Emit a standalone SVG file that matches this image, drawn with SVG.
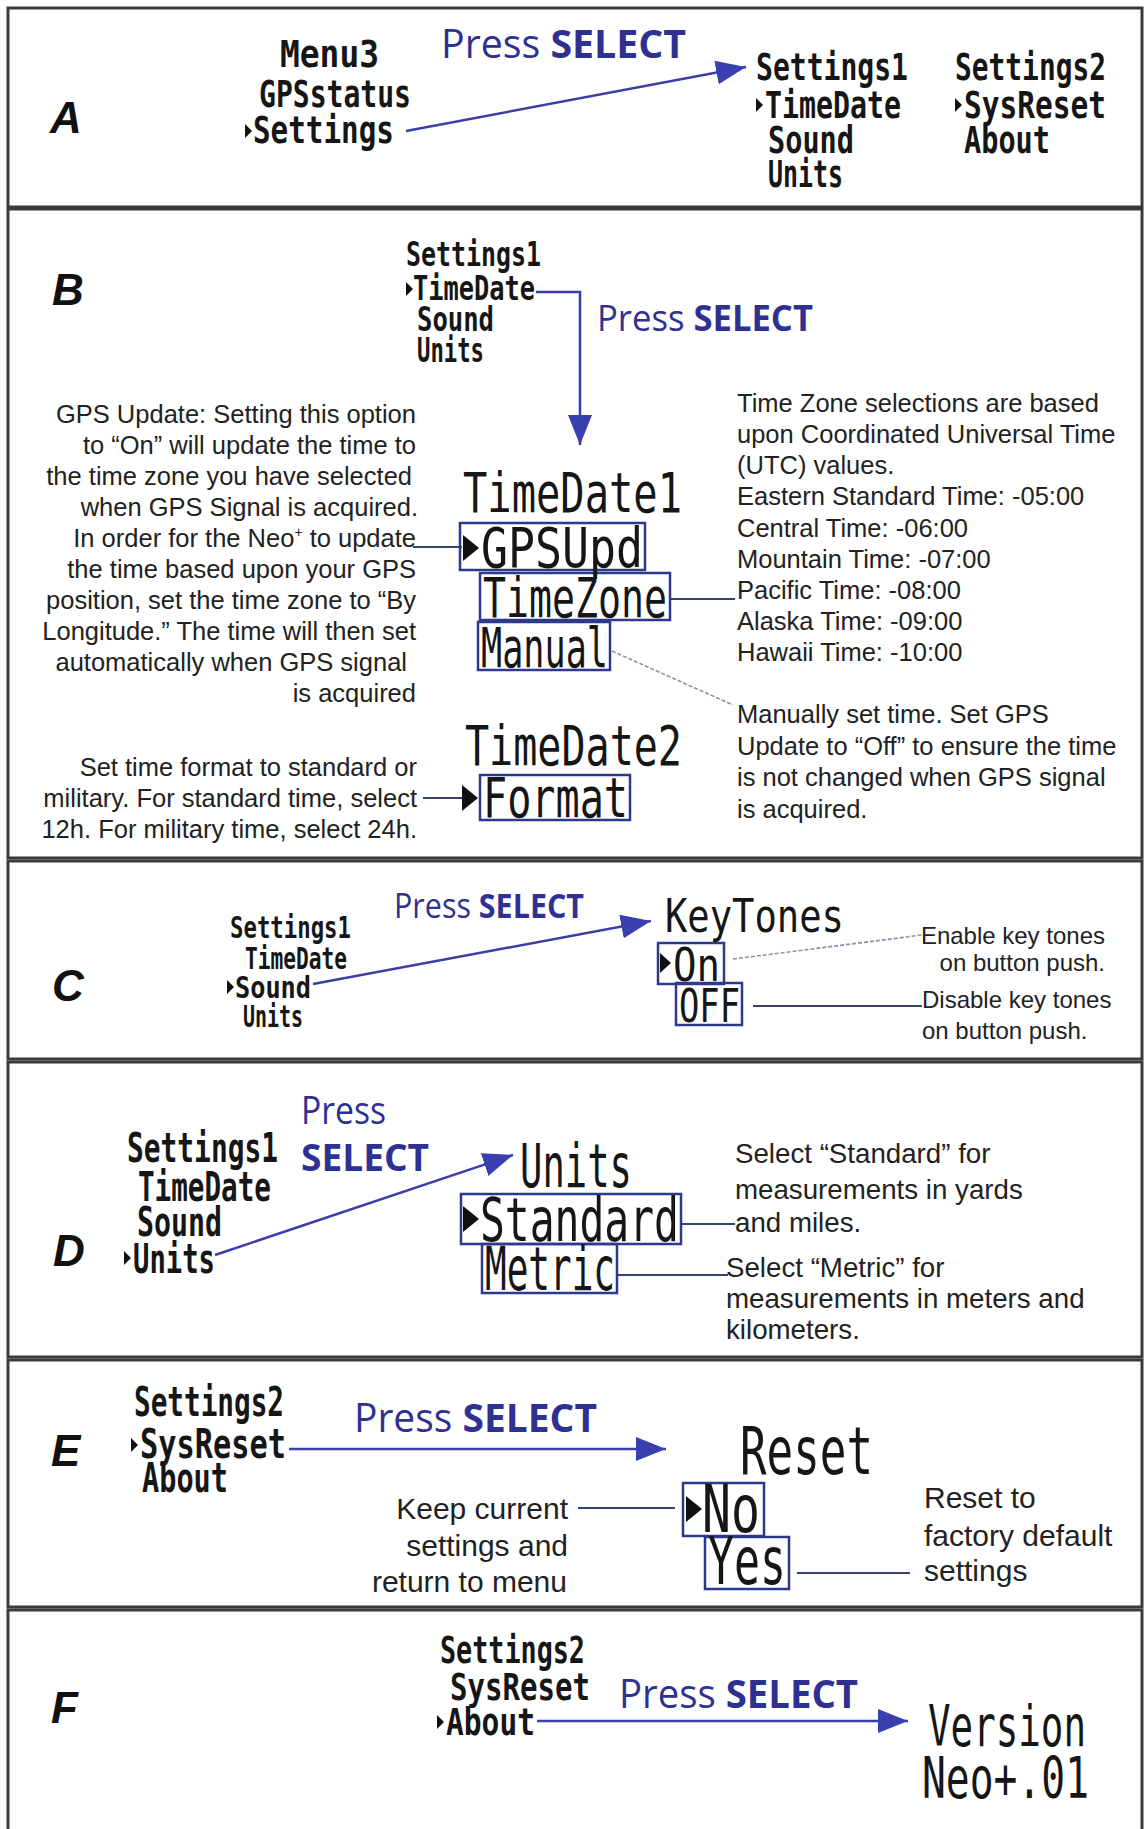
<svg xmlns="http://www.w3.org/2000/svg" width="1146" height="1829" viewBox="0 0 1146 1829">
<style>
.panel{fill:#fff;stroke:#3a3a3a;stroke-width:3}
.lbl{font-family:"Liberation Sans",Arial,sans-serif;font-weight:bold;font-style:italic;font-size:44px;fill:#111}
.lcd{font-family:"DejaVu Sans Mono","Liberation Mono",monospace;fill:#161616}
.lcdb{font-weight:bold}
.body{font-family:"Liberation Sans",Arial,sans-serif;fill:#222}
.press{font-family:"Open Sans","Noto Sans",sans-serif;fill:#2e3192}
.sel{font-weight:bold}
.box{fill:none;stroke:#2d3a8c;stroke-width:2.5}
.arrow{fill:none;stroke:#3a3fa8;stroke-width:2.5}
.lead{fill:none;stroke:#35446e;stroke-width:2}
.leadg{fill:none;stroke:#8c90a8;stroke-width:1.6;stroke-dasharray:4 2}
.cur{fill:#111}
</style>
<defs>
<marker id="ah" markerUnits="userSpaceOnUse" markerWidth="32" markerHeight="26" refX="30" refY="12" orient="auto">
<path d="M0,0 L30,12 L0,24 z" fill="#3a3fb0"/>
</marker>
<path id="cur" d="M0,-7 L7,0 L0,7 z"/>
<path id="curL" d="M0,-13 L16,0 L0,13 z"/>
<path id="curM" d="M0,-10 L11,0 L0,10 z"/>
</defs>

<g id="panels">
<rect class="panel" x="8" y="8" width="1134" height="199"/>
<rect class="panel" x="8" y="209" width="1134" height="649"/>
<rect class="panel" x="8" y="861" width="1134" height="198"/>
<rect class="panel" x="8" y="1062" width="1134" height="295"/>
<rect class="panel" x="8" y="1360" width="1134" height="247"/>
<rect class="panel" x="8" y="1610" width="1134" height="240"/>
</g>

<g id="labels">
<text class="lbl" x="50" y="133">A</text>
<text class="lbl" x="52" y="305">B</text>
<text class="lbl" x="52" y="1001" font-style="normal">C</text>
<text class="lbl" x="53" y="1266">D</text>
<text class="lbl" x="51" y="1466">E</text>
<text class="lbl" x="51" y="1723">F</text>
</g>

<g id="connectors">
<line class="arrow" x1="406" y1="131" x2="746" y2="67" marker-end="url(#ah)"/>
<polyline class="arrow" points="536,292 580,292 580,445" marker-end="url(#ah)"/>
<line class="lead" x1="413" y1="547" x2="462" y2="547"/>
<line class="lead" x1="670" y1="599" x2="735" y2="599"/>
<line class="leadg" x1="612" y1="651" x2="733" y2="705"/>
<line class="lead" x1="423" y1="798" x2="462" y2="798"/>
<line class="arrow" x1="313" y1="984" x2="651" y2="921" marker-end="url(#ah)"/>
<line class="leadg" x1="733" y1="959" x2="922" y2="935"/>
<line class="lead" x1="753" y1="1006" x2="922" y2="1006"/>
<line class="arrow" x1="215" y1="1255" x2="513" y2="1155" marker-end="url(#ah)"/>
<line class="lead" x1="681" y1="1224" x2="735" y2="1224"/>
<line class="lead" x1="618" y1="1275" x2="728" y2="1275"/>
<line class="arrow" x1="289" y1="1449" x2="666" y2="1449" marker-end="url(#ah)"/>
<line class="lead" x1="578" y1="1508" x2="675" y2="1508"/>
<line class="lead" x1="797" y1="1573" x2="910" y2="1573"/>
<line class="arrow" x1="537" y1="1721" x2="908" y2="1721" marker-end="url(#ah)"/>
</g>

<g id="pressA"><text class="press" x="441" y="58" font-size="40" textLength="245" lengthAdjust="spacingAndGlyphs">Press <tspan class="sel">SELECT</tspan></text></g>
<g id="pressB"><text class="press" x="597" y="331" font-size="36" textLength="216" lengthAdjust="spacingAndGlyphs">Press <tspan class="sel">SELECT</tspan></text></g>
<g id="pressC"><text class="press" x="394" y="918" font-size="34" textLength="190" lengthAdjust="spacingAndGlyphs">Press <tspan class="sel">SELECT</tspan></text></g>
<g id="pressD"><text class="press" x="301" y="1124" font-size="38" textLength="85" lengthAdjust="spacingAndGlyphs">Press</text><text class="press sel" x="301" y="1171" font-size="38" textLength="128" lengthAdjust="spacingAndGlyphs">SELECT</text></g>
<g id="pressE"><text class="press" x="354" y="1432" font-size="40" textLength="243" lengthAdjust="spacingAndGlyphs">Press <tspan class="sel">SELECT</tspan></text></g>
<g id="pressF"><text class="press" x="619" y="1708" font-size="40" textLength="239" lengthAdjust="spacingAndGlyphs">Press <tspan class="sel">SELECT</tspan></text></g>

<g id="menu3">
<use href="#cur" class="cur" x="245" y="131"/>
<text class="lcd lcdb" font-size="27.7" transform="scale(1 1.37)"><tspan x="280" y="48.91" textLength="99" lengthAdjust="spacingAndGlyphs">Menu3</tspan><tspan x="259" y="78.10" textLength="152" lengthAdjust="spacingAndGlyphs">GPSstatus</tspan><tspan x="253" y="104.38" textLength="141" lengthAdjust="spacingAndGlyphs">Settings</tspan></text>
</g>
<g id="settings1A">
<use href="#cur" class="cur" x="756" y="105"/>
<text class="lcd lcdb" font-size="27.7" transform="scale(1 1.37)"><tspan x="756" y="58.39" textLength="152" lengthAdjust="spacingAndGlyphs">Settings1</tspan><tspan x="765" y="86.13" textLength="136" lengthAdjust="spacingAndGlyphs">TimeDate</tspan><tspan x="768" y="111.68" textLength="86" lengthAdjust="spacingAndGlyphs">Sound</tspan><tspan x="768" y="136.50" textLength="75" lengthAdjust="spacingAndGlyphs">Units</tspan></text>
</g>
<g id="settings2A">
<use href="#cur" class="cur" x="955" y="105"/>
<text class="lcd lcdb" font-size="27.7" transform="scale(1 1.37)"><tspan x="955" y="58.39" textLength="151" lengthAdjust="spacingAndGlyphs">Settings2</tspan><tspan x="964" y="86.13" textLength="142" lengthAdjust="spacingAndGlyphs">SysReset</tspan><tspan x="964" y="111.68" textLength="86" lengthAdjust="spacingAndGlyphs">About</tspan></text>
</g>

<g id="settings1B">
<use href="#cur" class="cur" x="406" y="289"/>
<text class="lcd lcdb" font-size="24.1" transform="scale(1 1.37)"><tspan x="406" y="194.16" textLength="135" lengthAdjust="spacingAndGlyphs">Settings1</tspan><tspan x="413" y="218.98" textLength="122" lengthAdjust="spacingAndGlyphs">TimeDate</tspan><tspan x="417" y="241.61" textLength="77" lengthAdjust="spacingAndGlyphs">Sound</tspan><tspan x="417" y="264.23" textLength="67" lengthAdjust="spacingAndGlyphs">Units</tspan></text>
</g>
<g id="timedate1">
<rect class="box" x="460" y="523" width="185" height="47"/>
<rect class="box" x="480" y="573" width="190" height="47"/>
<rect class="box" x="478" y="622" width="132" height="48" stroke-width="3.5"/>
<use href="#curL" class="cur" x="463" y="548"/>
<text class="lcd" font-size="40.1" transform="scale(1 1.37)"><tspan x="463" y="373.72" textLength="219" lengthAdjust="spacingAndGlyphs">TimeDate1</tspan><tspan x="481" y="413.87" textLength="162" lengthAdjust="spacingAndGlyphs">GPSUpd</tspan><tspan x="483" y="450.36" textLength="184" lengthAdjust="spacingAndGlyphs">TimeZone</tspan><tspan x="481" y="486.86" textLength="127" lengthAdjust="spacingAndGlyphs">Manual</tspan></text>
</g>
<g id="timedate2">
<rect class="box" x="480" y="775" width="150" height="45"/>
<use href="#curL" class="cur" x="462" y="798"/>
<text class="lcd" font-size="40.1" transform="scale(1 1.37)"><tspan x="465" y="558.39" textLength="217" lengthAdjust="spacingAndGlyphs">TimeDate2</tspan><tspan x="483" y="596.35" textLength="145" lengthAdjust="spacingAndGlyphs">Format</tspan></text>
</g>
<g id="noteGPS" class="body" font-size="25.5" text-anchor="end">
<text x="416" y="423">GPS Update: Setting this option</text>
<text x="416" y="454">to “On” will update the time to</text>
<text x="412" y="485">the time zone you have selected</text>
<text x="418" y="516">when GPS Signal is acquired.</text>
<text x="416" y="547">In order for the Neo<tspan font-size="14" dy="-10">+</tspan><tspan dy="10"> to update</tspan></text>
<text x="416" y="578">the time based upon your GPS</text>
<text x="416" y="609">position, set the time zone to “By</text>
<text x="416" y="640">Longitude.” The time will then set</text>
<text x="407" y="671">automatically when GPS signal</text>
<text x="416" y="702">is acquired</text>
</g>
<g id="noteFormat" class="body" font-size="25.5" text-anchor="end">
<text x="417" y="776">Set time format to standard or</text>
<text x="417" y="807">military. For standard time, select</text>
<text x="417" y="838">12h. For military time, select 24h.</text>
</g>
<g id="noteZone" class="body" font-size="25.5">
<text x="737" y="412">Time Zone selections are based</text>
<text x="737" y="443">upon Coordinated Universal Time</text>
<text x="737" y="474">(UTC) values.</text>
<text x="737" y="505">Eastern Standard Time: -05:00</text>
<text x="737" y="537">Central Time: -06:00</text>
<text x="737" y="568">Mountain Time: -07:00</text>
<text x="737" y="599">Pacific Time: -08:00</text>
<text x="737" y="630">Alaska Time: -09:00</text>
<text x="737" y="661">Hawaii Time: -10:00</text>
</g>
<g id="noteManual" class="body" font-size="25.5">
<text x="737" y="723">Manually set time. Set GPS</text>
<text x="737" y="755">Update to “Off” to ensure the time</text>
<text x="737" y="786">is not changed when GPS signal</text>
<text x="737" y="818">is acquired.</text>
</g>

<g id="settings1C">
<use href="#cur" class="cur" x="227" y="987"/>
<text class="lcd lcdb" font-size="21.9" transform="scale(1 1.37)"><tspan x="230" y="684.67" textLength="121" lengthAdjust="spacingAndGlyphs">Settings1</tspan><tspan x="245" y="707.30" textLength="102" lengthAdjust="spacingAndGlyphs">TimeDate</tspan><tspan x="235" y="728.47" textLength="76" lengthAdjust="spacingAndGlyphs">Sound</tspan><tspan x="243" y="749.64" textLength="60" lengthAdjust="spacingAndGlyphs">Units</tspan></text>
</g>
<g id="keytones">
<rect class="box" x="658" y="943" width="66" height="41"/>
<rect class="box" x="676" y="983" width="66" height="42"/>
<use href="#curM" class="cur" x="660" y="963"/>
<text class="lcd" font-size="33.6" transform="scale(1 1.37)"><tspan x="665" y="680.29" textLength="179" lengthAdjust="spacingAndGlyphs">KeyTones</tspan><tspan x="673" y="716.06" textLength="47" lengthAdjust="spacingAndGlyphs">On</tspan><tspan x="679" y="745.99" textLength="61" lengthAdjust="spacingAndGlyphs">OFF</tspan></text>
</g>
<g id="noteTones" class="body" font-size="24">
<text x="1105" y="944" text-anchor="end">Enable key tones</text>
<text x="1105" y="971" text-anchor="end">on button push.</text>
<text x="922" y="1008">Disable key tones</text>
<text x="922" y="1039">on button push.</text>
</g>

<g id="settings1D">
<use href="#cur" class="cur" x="124" y="1258"/>
<text class="lcd lcdb" font-size="29.2" transform="scale(1 1.37)"><tspan x="127" y="848.18" textLength="151" lengthAdjust="spacingAndGlyphs">Settings1</tspan><tspan x="138" y="876.64" textLength="133" lengthAdjust="spacingAndGlyphs">TimeDate</tspan><tspan x="137" y="902.19" textLength="85" lengthAdjust="spacingAndGlyphs">Sound</tspan><tspan x="133" y="929.20" textLength="82" lengthAdjust="spacingAndGlyphs">Units</tspan></text>
</g>
<g id="units">
<rect class="box" x="461" y="1194" width="220" height="50"/>
<rect class="box" x="482" y="1244" width="135" height="49" stroke-width="3.5"/>
<use href="#curL" class="cur" x="463" y="1219"/>
<text class="lcd" font-size="43.8" transform="scale(1 1.37)"><tspan x="520" y="866.42" textLength="112" lengthAdjust="spacingAndGlyphs">Units</tspan><tspan x="480" y="905.84" textLength="199" lengthAdjust="spacingAndGlyphs">Standard</tspan><tspan x="485" y="941.61" textLength="130" lengthAdjust="spacingAndGlyphs">Metric</tspan></text>
</g>
<g id="noteUnits" class="body" font-size="27.7">
<text x="735" y="1163">Select “Standard” for</text>
<text x="735" y="1199">measurements in yards</text>
<text x="735" y="1232">and miles.</text>
<text x="726" y="1277">Select “Metric” for</text>
<text x="726" y="1308">measurements in meters and</text>
<text x="726" y="1339">kilometers.</text>
</g>

<g id="settings2E">
<use href="#cur" class="cur" x="131" y="1445"/>
<text class="lcd lcdb" font-size="29.2" transform="scale(1 1.37)"><tspan x="134" y="1033.58" textLength="150" lengthAdjust="spacingAndGlyphs">Settings2</tspan><tspan x="140" y="1064.23" textLength="146" lengthAdjust="spacingAndGlyphs">SysReset</tspan><tspan x="142" y="1089.05" textLength="86" lengthAdjust="spacingAndGlyphs">About</tspan></text>
</g>
<g id="reset">
<rect class="box" x="683" y="1483" width="81" height="53"/>
<rect class="box" x="705" y="1537" width="84" height="52"/>
<use href="#curL" class="cur" x="686" y="1509"/>
<text class="lcd" font-size="48.2" transform="scale(1 1.37)"><tspan x="740" y="1075.91" textLength="133" lengthAdjust="spacingAndGlyphs">Reset</tspan><tspan x="702" y="1118.25" textLength="58" lengthAdjust="spacingAndGlyphs">No</tspan><tspan x="708" y="1156.20" textLength="78" lengthAdjust="spacingAndGlyphs">Yes</tspan></text>
</g>
<g id="noteReset" class="body" font-size="30">
<text x="568" y="1519" text-anchor="end">Keep current</text>
<text x="568" y="1556" text-anchor="end">settings and</text>
<text x="567" y="1592" text-anchor="end">return to menu</text>
<text x="924" y="1508">Reset to</text>
<text x="924" y="1546">factory default</text>
<text x="924" y="1581">settings</text>
</g>

<g id="settings2F">
<use href="#cur" class="cur" x="437" y="1722"/>
<text class="lcd lcdb" font-size="27.7" transform="scale(1 1.37)"><tspan x="440" y="1213.87" textLength="145" lengthAdjust="spacingAndGlyphs">Settings2</tspan><tspan x="450" y="1240.88" textLength="140" lengthAdjust="spacingAndGlyphs">SysReset</tspan><tspan x="446" y="1266.42" textLength="89" lengthAdjust="spacingAndGlyphs">About</tspan></text>
</g>
<g id="version">
<text class="lcd" font-size="40.9" transform="scale(1 1.37)"><tspan x="928" y="1274.45" textLength="158" lengthAdjust="spacingAndGlyphs">Version</tspan><tspan x="922" y="1312.41" textLength="167" lengthAdjust="spacingAndGlyphs">Neo+.01</tspan></text>
</g>
</svg>
